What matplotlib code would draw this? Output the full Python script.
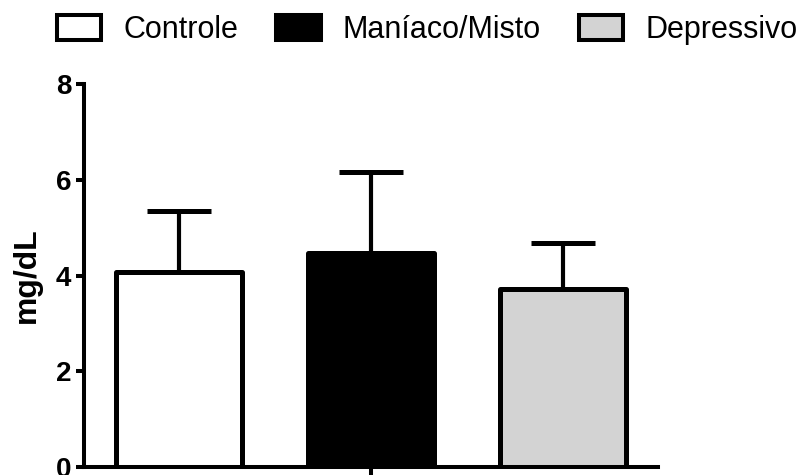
import matplotlib
matplotlib.use("Agg")
import matplotlib.pyplot as plt
from matplotlib.patches import Patch

plt.rcParams['font.family'] = ['Liberation Sans', 'DejaVu Sans']

# data
groups = ["Controle", "Maníaco/Misto", "Depressivo"]
means = [4.08, 4.46, 3.71]
upper_err = [1.27, 1.71, 0.97]
colors = ["white", "black", "#d3d3d3"]
y_ticks = [0, 2, 4, 6, 8]

fig = plt.figure(figsize=(8.04, 4.75), dpi=100)
ax = fig.add_axes([84 / 804, 8 / 475, 574 / 804, 383 / 475])

x = list(range(len(groups)))
ax.errorbar(x, means, yerr=[[0] * len(means), upper_err], fmt="none",
            ecolor="black", elinewidth=3.0, capsize=23, capthick=3.6,
            zorder=1)
bars = ax.bar(x, means, width=0.66, color=colors, edgecolor="black",
              linewidth=3.6, zorder=2)
for b in bars:
    b.set_joinstyle("round")

ax.set_xlim(-0.495, 2.495)
ax.set_ylim(0, 8)
ax.set_yticks(y_ticks)
ax.set_yticklabels([str(t) for t in y_ticks], fontsize=20, fontweight="bold")
ax.set_xticks([1])
ax.set_xticklabels([""])
ax.tick_params(axis="both", width=2.9, length=6, color="black")
ax.tick_params(axis="y", pad=3)

for s in ["top", "right"]:
    ax.spines[s].set_visible(False)
for s in ["left", "bottom"]:
    ax.spines[s].set_linewidth(2.9)
    ax.spines[s].set_zorder(3)

ax.set_ylabel("mg/dL", fontsize=23, fontweight="bold", labelpad=10)

handles = [Patch(facecolor=c, edgecolor="black", linewidth=2.9,
                 joinstyle="round") for c in colors]
fig.legend(handles, groups, loc="upper left", ncol=3,
           bbox_to_anchor=(57 / 804, 1 - 15 / 475), frameon=False,
           fontsize=22, handlelength=1.45, handleheight=0.85,
           handletextpad=0.72, columnspacing=1.25, borderpad=0,
           borderaxespad=0)

fig.savefig("out.png", dpi=100)
